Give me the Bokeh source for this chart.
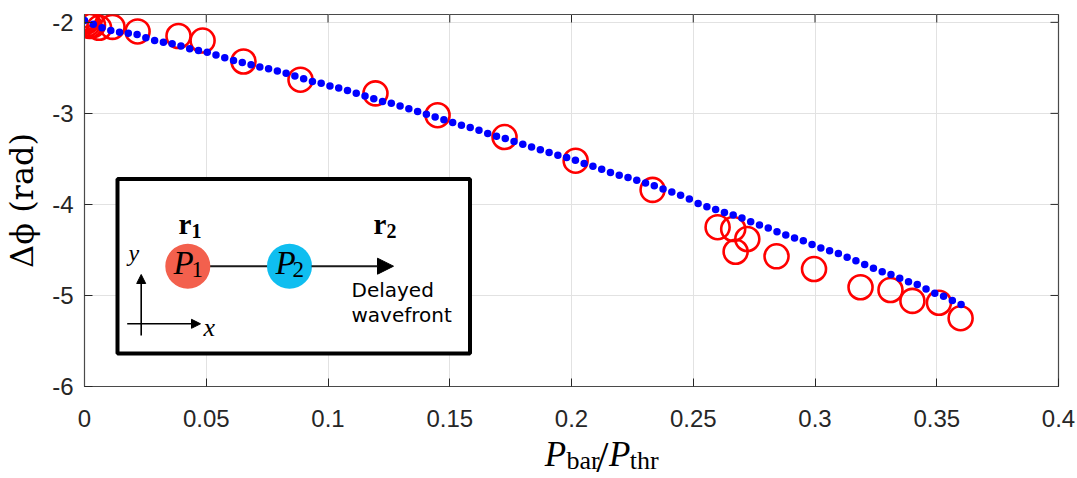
import numpy as np
from bokeh.plotting import figure
from bokeh.layouts import column
from bokeh.models import Range1d, FixedTicker, Label, Arrow, NormalHead
from bokeh.embed import file_html
from bokeh.resources import INLINE

# ---------------- data ----------------
theory_x = [0.0000, 0.0036, 0.0072, 0.0108, 0.0144, 0.0180, 0.0216, 0.0252, 0.0288, 0.0324,
            0.0360, 0.0396, 0.0432, 0.0468, 0.0504, 0.0540, 0.0576, 0.0612, 0.0648, 0.0684,
            0.0720, 0.0756, 0.0792, 0.0828, 0.0864, 0.0900, 0.0936, 0.0972, 0.1008, 0.1044,
            0.1080, 0.1116, 0.1152, 0.1188, 0.1224, 0.1260, 0.1296, 0.1332, 0.1368, 0.1404,
            0.1440, 0.1476, 0.1512, 0.1548, 0.1584, 0.1620, 0.1656, 0.1692, 0.1728, 0.1764,
            0.1800, 0.1836, 0.1872, 0.1908, 0.1944, 0.1980, 0.2016, 0.2052, 0.2088, 0.2124,
            0.2160, 0.2196, 0.2232, 0.2268, 0.2304, 0.2340, 0.2376, 0.2412, 0.2448, 0.2484,
            0.2520, 0.2556, 0.2592, 0.2628, 0.2664, 0.2700, 0.2736, 0.2772, 0.2808, 0.2844,
            0.2880, 0.2916, 0.2952, 0.2988, 0.3024, 0.3060, 0.3096, 0.3132, 0.3168, 0.3204,
            0.3240, 0.3276, 0.3312, 0.3348, 0.3384, 0.3420, 0.3456, 0.3492, 0.3528, 0.3564,
            0.3600]
theory_y = [-1.98, -2.02, -2.06, -2.09, -2.108, -2.12, -2.135, -2.17, -2.20, -2.22,
            -2.235, -2.26, -2.29, -2.31, -2.33, -2.36, -2.39, -2.42, -2.44, -2.465,
            -2.49, -2.51, -2.535, -2.56, -2.59, -2.62, -2.65, -2.67, -2.70, -2.72,
            -2.75, -2.78, -2.81, -2.84, -2.87, -2.89, -2.92, -2.95, -2.98, -3.01,
            -3.04, -3.07, -3.10, -3.13, -3.155, -3.185, -3.22, -3.25, -3.275, -3.31,
            -3.34, -3.37, -3.40, -3.43, -3.46, -3.485, -3.515, -3.55, -3.58, -3.615,
            -3.65, -3.68, -3.705, -3.735, -3.765, -3.795, -3.83, -3.865, -3.90, -3.94,
            -3.99, -4.025, -4.055, -4.09, -4.116, -4.15, -4.19, -4.226, -4.26, -4.30,
            -4.335, -4.37, -4.40, -4.44, -4.48, -4.51, -4.54, -4.58, -4.62, -4.66,
            -4.70, -4.74, -4.77, -4.81, -4.85, -4.88, -4.93, -4.975, -5.01, -5.056,
            -5.10]

meas_x = [0.0003, 0.0005, 0.0008, 0.0010, 0.0013, 0.0020, 0.0035, 0.0060,
          0.0115, 0.0218, 0.0386, 0.0485, 0.0653, 0.0887, 0.1195, 0.1450,
          0.1725, 0.2017, 0.2333, 0.2600, 0.2664, 0.2674, 0.2722, 0.2842,
          0.2996, 0.3187, 0.3310, 0.3400, 0.3509, 0.3598]
meas_y = [-1.92, -1.95, -1.97, -1.99, -2.02, -2.04, -2.03, -2.06,
          -2.05, -2.10, -2.15, -2.20, -2.43, -2.63, -2.78, -3.02,
          -3.26, -3.52, -3.84, -4.25, -4.27, -4.52, -4.38, -4.57,
          -4.71, -4.91, -4.94, -5.06, -5.08, -5.25]

x_ticks = [0, 0.05, 0.1, 0.15, 0.2, 0.25, 0.3, 0.35, 0.4]
x_tick_labels = ["0", "0.05", "0.1", "0.15", "0.2", "0.25", "0.3", "0.35", "0.4"]
y_ticks = [-6, -5, -4, -3, -2]
y_tick_labels = ["-6", "-5", "-4", "-3", "-2"]

X_MIN, X_MAX = 0.0, 0.4
Y_MIN, Y_MAX = -6.0, -1.914

# ---------------- layout (page pixels) ----------------
W, H = 1077, 478
XL_H = 48            # strip at the bottom holding the x label
MAIN_H = H - XL_H    # 430
FL, FR, FT, FB = 84, 1058, 14, 386   # frame box in page pixels
TICK = 8
BASE_FIX = 0.34      # em offset that Bokeh's SVG labels drift below the baseline


def dx(px):
    return X_MIN + (px - FL) / (FR - FL) * (X_MAX - X_MIN)


def dy(py):
    return Y_MIN + (FB - py) / (FB - FT) * (Y_MAX - Y_MIN)


p = figure(width=W, height=MAIN_H, x_range=Range1d(X_MIN, X_MAX),
           y_range=Range1d(Y_MIN, Y_MAX), output_backend="svg", toolbar_location=None,
           min_border_left=FL, min_border_right=W - FR, min_border_top=FT,
           min_border_bottom=MAIN_H - FB)
p.background_fill_color = "white"
p.border_fill_color = "white"
p.outline_line_color = "#4a4a4a"
p.outline_line_width = 1.2

ax_col = "#262626"
xa = p.xaxis[0]
ya = p.yaxis[0]
xa.ticker = FixedTicker(ticks=x_ticks)
ya.ticker = FixedTicker(ticks=y_ticks)
xa.major_label_overrides = dict(zip(x_ticks, x_tick_labels))
ya.major_label_overrides = dict(zip(y_ticks, y_tick_labels))
for a in (xa, ya):
    a.major_label_text_font = "Liberation Sans"
    a.major_label_text_font_size = "24px"
    a.major_label_text_color = ax_col
    a.major_tick_in = TICK
    a.major_tick_out = 0
    a.minor_tick_line_color = None
    a.major_tick_line_color = ax_col
    a.axis_line_color = "#4a4a4a"
xa.major_label_standoff = 23
ya.major_label_standoff = 11
ya.axis_label = "Δϕ (rad)"
ya.axis_label_text_font = "DejaVu Serif"
ya.axis_label_text_font_size = "32px"
ya.axis_label_text_font_style = "normal"
ya.axis_label_text_color = "black"
ya.axis_label_standoff = 8

p.xgrid.grid_line_color = "#e2e2e2"
p.ygrid.grid_line_color = "#e2e2e2"

# mirrored ticks on the top and right sides of the box
tick_dy = TICK / (FB - FT) * (Y_MAX - Y_MIN)
tick_dx = TICK / (FR - FL) * (X_MAX - X_MIN)
p.segment(x0=x_ticks, y0=[Y_MAX] * len(x_ticks), x1=x_ticks, y1=[Y_MAX - tick_dy] * len(x_ticks),
          line_color=ax_col, line_width=1)
p.segment(x0=[X_MAX] * len(y_ticks), y0=y_ticks, x1=[X_MAX - tick_dx] * len(y_ticks), y1=y_ticks,
          line_color=ax_col, line_width=1)

# ---------------- data marks ----------------
p.scatter(meas_x, meas_y, marker="circle", size=24, fill_color=None,
          line_color="#ff0000", line_width=2.6)
p.scatter(theory_x, theory_y, marker="circle", size=7.5, fill_color="#0000ff",
          line_color=None)

# ---------------- inset diagram ----------------
p.quad(left=[dx(117)], right=[dx(469.5)], top=[dy(178.5)], bottom=[dy(353)],
       fill_color="white", line_color="black", line_width=4)
p.segment(x0=[dx(187)], y0=[dy(265.7)], x1=[dx(289)], y1=[dy(265.7)],
          line_color="#1a1a1a", line_width=2)
p.scatter([dx(187.3)], [dy(265.7)], marker="circle", size=45, fill_color="#f3604d", line_color=None)
p.scatter([dx(289)], [dy(265.7)], marker="circle", size=45, fill_color="#0fbef0", line_color=None)

p.add_layout(Arrow(end=NormalHead(size=16, fill_color="black", line_color="black"),
                   x_start=dx(311), y_start=dy(265.7), x_end=dx(393), y_end=dy(265.7),
                   line_width=2, line_color="#1a1a1a"))
p.add_layout(Arrow(end=NormalHead(size=9, fill_color="black", line_color="black"),
                   x_start=dx(140.7), y_start=dy(335), x_end=dx(140.7), y_end=dy(274),
                   line_width=1.6, line_color="black"))
p.add_layout(Arrow(end=NormalHead(size=9, fill_color="black", line_color="black"),
                   x_start=dx(126.7), y_start=dy(323.3), x_end=dx(200), y_end=dy(323.3),
                   line_width=1.6, line_color="black"))


def lab(fig, fx, fy, text, px, py, size, font="Liberation Serif", style="normal"):
    py = py - BASE_FIX * size
    fig.add_layout(Label(x=fx(px), y=fy(py), text=text, text_font=font,
                         text_font_size=f"{size}px", text_font_style=style,
                         text_color="black", text_align="left", text_baseline="alphabetic"))


lab(p, dx, dy, "P", 173, 274, 33, style="italic")
lab(p, dx, dy, "1", 191, 277, 23)
lab(p, dx, dy, "P", 275, 274, 33, style="italic")
lab(p, dx, dy, "2", 292, 277, 23)
lab(p, dx, dy, "r", 178, 233, 29, style="bold")
lab(p, dx, dy, "1", 191, 237, 20, style="bold")
lab(p, dx, dy, "r", 373, 233, 29, style="bold")
lab(p, dx, dy, "2", 386, 237, 20, style="bold")
lab(p, dx, dy, "y", 128, 261, 24, style="italic")
lab(p, dx, dy, "x", 203, 335.5, 26, style="italic")
lab(p, dx, dy, "Delayed", 351, 296, 20, font="DejaVu Sans")
lab(p, dx, dy, "wavefront", 351, 321.5, 20, font="DejaVu Sans")

# ---------------- x label strip: P_bar / P_thr ----------------
qx = figure(width=W, height=XL_H, x_range=Range1d(0, W), y_range=Range1d(0, XL_H),
            output_backend="svg", toolbar_location=None, min_border=0,
            x_axis_location=None, y_axis_location=None)
qx.outline_line_color = None
qx.grid.visible = False
qx.background_fill_color = "white"
qx.border_fill_color = "white"


def qx_x(px):
    return px


def qx_y(py):
    return H - py


lab(qx, qx_x, qx_y, "P", 509, 466, 35, style="italic")
lab(qx, qx_x, qx_y, "bar", 533, 469, 26)
lab(qx, qx_x, qx_y, "/", 566, 472, 44)
lab(qx, qx_x, qx_y, "P", 580, 466, 35, style="italic")
lab(qx, qx_x, qx_y, "thr", 603, 469, 26)

layout = column(p, qx)
open("out.html", "w").write(file_html(layout, INLINE))
